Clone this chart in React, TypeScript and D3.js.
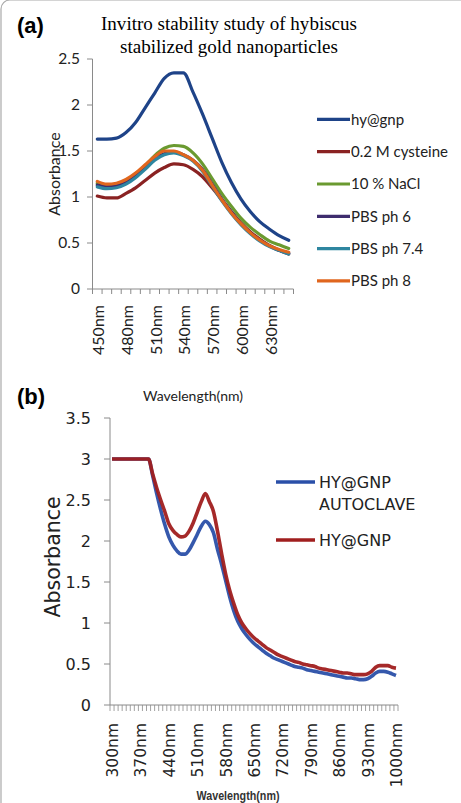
import { scaleBand, scaleLinear, line, curveMonotoneX, range } from 'd3';

const WIDTH = 461;
const HEIGHT = 803;

// ---- panel (a): stability study, 450-650nm
const wavelengthsA = range(450, 651, 10);
const tickLabelsA = ['450nm', '480nm', '510nm', '540nm', '570nm', '600nm', '630nm'];
const yTicksA = [0, 0.5, 1, 1.5, 2, 2.5];
const namesA = ['hy@gnp', '0.2 M cysteine', '10 % NaCl', 'PBS ph 6', 'PBS ph 7.4', 'PBS ph 8'];
const hyGnp = [1.63, 1.63, 1.64, 1.7, 1.81, 1.97, 2.13, 2.29, 2.35, 2.35, 2.14, 1.9, 1.64, 1.38, 1.16, 0.98, 0.84, 0.73, 0.65, 0.58, 0.53];
const cysteine = [1.01, 0.99, 0.99, 1.04, 1.1, 1.18, 1.26, 1.32, 1.36, 1.35, 1.3, 1.22, 1.1, 0.97, 0.84, 0.72, 0.62, 0.54, 0.47, 0.42, 0.38];
const nacl = [1.15, 1.13, 1.14, 1.18, 1.25, 1.34, 1.45, 1.53, 1.56, 1.55, 1.48, 1.36, 1.2, 1.04, 0.9, 0.77, 0.67, 0.59, 0.52, 0.48, 0.44];
const pbs6 = [1.13, 1.11, 1.12, 1.16, 1.23, 1.32, 1.42, 1.47, 1.49, 1.46, 1.4, 1.3, 1.14, 0.98, 0.84, 0.71, 0.61, 0.53, 0.47, 0.42, 0.39];
const pbs74 = [1.11, 1.09, 1.1, 1.14, 1.21, 1.3, 1.4, 1.46, 1.48, 1.45, 1.39, 1.28, 1.12, 0.96, 0.82, 0.7, 0.6, 0.52, 0.46, 0.42, 0.38];
const pbs8 = [1.17, 1.14, 1.15, 1.19, 1.26, 1.35, 1.44, 1.5, 1.5, 1.46, 1.4, 1.29, 1.13, 0.97, 0.83, 0.71, 0.61, 0.53, 0.47, 0.43, 0.4];
const colorsA = ['#1e4388', '#8a2222', '#6a9a30', '#3e2d6e', '#2e86a0', '#e0661e'];

// ---- panel (b): autoclave, 300-1000nm
const wavelengthsB = range(300, 1001, 10);
const tickLabelsB = ['300nm', '370nm', '440nm', '510nm', '580nm', '650nm', '720nm', '790nm', '860nm', '930nm', '1000nm'];
const yTicksB = [0, 0.5, 1, 1.5, 2, 2.5, 3, 3.5];
const hyAutoclave = [
  3, 3, 3, 3, 3, 3, 3, 3, 3, 3,
  2.8, 2.58, 2.38, 2.2, 2.05, 1.95, 1.88, 1.84, 1.84, 1.89,
  1.98, 2.08, 2.18, 2.24, 2.2, 2.1, 1.9, 1.72, 1.52, 1.32,
  1.15, 1.02, 0.93, 0.86, 0.8, 0.75, 0.71, 0.67, 0.63, 0.6,
  0.57, 0.55, 0.53, 0.51, 0.49, 0.47, 0.46, 0.45, 0.43, 0.42,
  0.41, 0.4, 0.39, 0.38, 0.37, 0.36, 0.35, 0.34, 0.33, 0.33,
  0.32, 0.31, 0.31, 0.32, 0.35, 0.39, 0.41, 0.41, 0.4, 0.38,
  0.36,
];
const hyPlain = [
  3, 3, 3, 3, 3, 3, 3, 3, 3, 3,
  2.82, 2.65, 2.5, 2.36, 2.21, 2.13, 2.08, 2.05, 2.06, 2.12,
  2.22, 2.35, 2.48, 2.58, 2.48, 2.36, 2.12, 1.85, 1.6, 1.4,
  1.24, 1.1, 1.0, 0.93, 0.87, 0.82, 0.78, 0.74, 0.7, 0.67,
  0.64, 0.61, 0.59, 0.57, 0.55, 0.53, 0.52, 0.5, 0.49, 0.48,
  0.47, 0.45, 0.44, 0.43, 0.42, 0.41, 0.4, 0.39, 0.39, 0.38,
  0.37, 0.37, 0.37, 0.38, 0.41, 0.46, 0.48, 0.48, 0.48, 0.46,
  0.45,
];
const colorsB = ['#2a4fa8', '#a01e1e'];

const AXIS = '#8a8a8a';
const FONT_A = 'Lato, sans-serif';
const FONT_B = '"DejaVu Sans", sans-serif';

function PanelA() {
  const x = scaleBand<number>().domain(wavelengthsA).range([92.5, 293.5]);
  const y = scaleLinear().domain([0, 2.5]).range([289, 59]);
  const cx = (d: number) => (x(d) ?? 0) + x.bandwidth() / 2;
  const series = [hyGnp, cysteine, nacl, pbs6, pbs74, pbs8];
  const gen = line<number>()
    .x((_, i) => cx(wavelengthsA[i]))
    .y(d => y(d))
    .curve(curveMonotoneX);
  const edges = [...wavelengthsA.map(d => x(d) ?? 0), 293.5];

  return (
    <g>
      <text x={17} y={33} fontFamily="Liberation Sans, Arial, sans-serif" fontWeight="bold" fontSize={22}>(a)</text>
      <text x={229} y={30} textAnchor="middle" fontFamily="Liberation Serif, serif" fontSize={19.5}
        textLength={256} lengthAdjust="spacingAndGlyphs">
        Invitro stability study of hybiscus
      </text>
      <text x={229} y={53} textAnchor="middle" fontFamily="Liberation Serif, serif" fontSize={19.5}
        textLength={218} lengthAdjust="spacingAndGlyphs">
        stabilized gold nanoparticles
      </text>

      {/* y axis */}
      <line x1={92.5} x2={92.5} y1={y(2.5)} y2={y(0)} stroke={AXIS} />
      {yTicksA.map(t => (
        <g key={t}>
          <line x1={87} x2={92.5} y1={y(t)} y2={y(t)} stroke={AXIS} />
          <text x={80} y={y(t)} dy="0.35em" textAnchor="end" fontFamily={FONT_A} fontSize={15.5} fill="#222">
            {t}
          </text>
        </g>
      ))}
      <text transform={`translate(60,174) rotate(-90)`} textAnchor="middle" fontFamily={FONT_A} fontSize={16} fill="#222">
        Absorbance
      </text>

      {/* x axis */}
      <line x1={92.5} x2={293.5} y1={y(0)} y2={y(0)} stroke={AXIS} />
      {edges.map((e, i) => (
        <line key={i} x1={e} x2={e} y1={y(0)} y2={y(0) + 5} stroke={AXIS} />
      ))}
      {tickLabelsA.map(lbl => {
        const c = cx(parseInt(lbl, 10));
        return (
          <text key={lbl} transform={`translate(${c + 7},${y(0) + 16}) rotate(-90)`} textAnchor="end"
            fontFamily={FONT_A} fontSize={16} fill="#222">
            {lbl}
          </text>
        );
      })}

      {series.map((s, i) => (
        <path key={namesA[i]} d={gen(s) ?? ''} fill="none" stroke={colorsA[i]} strokeWidth={3.2}
          strokeLinejoin="round" strokeLinecap="round" />
      ))}

      {/* legend */}
      {namesA.map((n, i) => {
        const ly = 119.4 + i * 32.3;
        return (
          <g key={n}>
            <line x1={317} x2={350} y1={ly} y2={ly} stroke={colorsA[i]} strokeWidth={3.2} />
            <text x={351} y={ly} dy="0.35em" fontFamily={FONT_A} fontSize={15} fill="#222">{n}</text>
          </g>
        );
      })}

      <text x={193} y={401} textAnchor="middle" fontFamily={FONT_A} fontSize={14} fill="#222">
        Wavelength(nm)
      </text>
    </g>
  );
}

function PanelB() {
  const x = scaleBand<number>().domain(wavelengthsB).range([110, 398]);
  const y = scaleLinear().domain([0, 3.5]).range([705, 418]);
  const cx = (d: number) => (x(d) ?? 0) + x.bandwidth() / 2;
  const gen = line<number>()
    .x((_, i) => cx(wavelengthsB[i]))
    .y(d => y(d))
    .curve(curveMonotoneX);
  const edges = [...wavelengthsB.map(d => x(d) ?? 0), 398];

  return (
    <g>
      <text x={17} y={404} fontFamily="Liberation Sans, Arial, sans-serif" fontWeight="bold" fontSize={22}>(b)</text>

      <line x1={110} x2={110} y1={y(3.5)} y2={y(0)} stroke={AXIS} />
      {yTicksB.map(t => (
        <g key={t}>
          <line x1={104} x2={110} y1={y(t)} y2={y(t)} stroke={AXIS} />
          <text x={91} y={y(t)} dy="0.36em" textAnchor="end" fontFamily={FONT_B} fontSize={16} fill="#222">
            {t}
          </text>
        </g>
      ))}
      <text transform={`translate(60,557) rotate(-90)`} textAnchor="middle" fontFamily={FONT_B} fontSize={20.5} fill="#222">
        Absorbance
      </text>

      <line x1={110} x2={398} y1={y(0)} y2={y(0)} stroke={AXIS} />
      {edges.map((e, i) => (
        <line key={i} x1={e} x2={e} y1={y(0)} y2={y(0) + 6} stroke={AXIS} strokeWidth={0.8} />
      ))}
      {tickLabelsB.map(lbl => {
        const c = cx(parseInt(lbl, 10));
        return (
          <text key={lbl} transform={`translate(${c + 6},${y(0) + 18}) rotate(-90)`} textAnchor="end"
            fontFamily={FONT_B} fontSize={15.5} fill="#222">
            {lbl}
          </text>
        );
      })}

      {[hyAutoclave, hyPlain].map((s, i) => (
        <path key={i} d={gen(s) ?? ''} fill="none" stroke={colorsB[i]} strokeWidth={3.6}
          strokeLinejoin="round" strokeOpacity={0.95} />
      ))}

      {/* legend */}
      <line x1={276} x2={315} y1={482} y2={482} stroke={colorsB[0]} strokeWidth={3.6} />
      <text x={319} y={488} fontFamily={FONT_B} fontSize={16} fill="#222">HY@GNP</text>
      <text x={319} y={510} fontFamily={FONT_B} fontSize={16} fill="#222">AUTOCLAVE</text>
      <line x1={276} x2={315} y1={540} y2={540} stroke={colorsB[1]} strokeWidth={3.6} />
      <text x={319} y={546} fontFamily={FONT_B} fontSize={16} fill="#222">HY@GNP</text>

      <text x={238} y={800} textAnchor="middle" fontFamily="Liberation Sans, Arial, sans-serif" fontSize={12}
        fontWeight="bold" fill="#333" textLength={83} lengthAdjust="spacingAndGlyphs">
        Wavelength(nm)
      </text>
    </g>
  );
}

export default function App() {
  return (
    <svg width={WIDTH} height={HEIGHT} style={{ position: 'absolute', left: 0, top: 0, background: '#fff' }}>
      <rect x={1} y={0} width={WIDTH + 20} height={HEIGHT + 20} rx={9} fill="#fff" stroke="#aaa" strokeWidth={1.2} />
      <PanelA />
      <PanelB />
    </svg>
  );
}
